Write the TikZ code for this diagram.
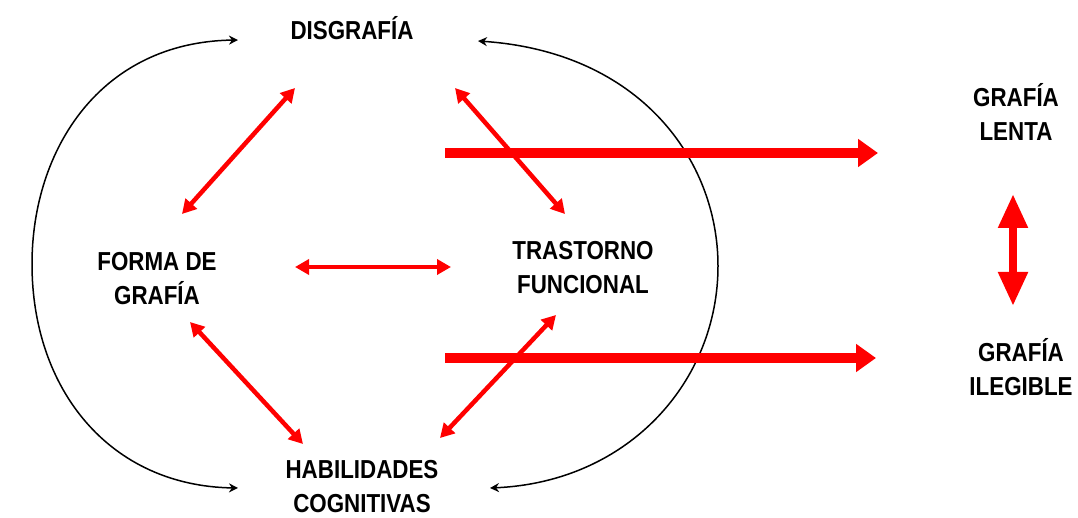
\documentclass[tikz,border=0pt]{standalone}
\usepackage{fontspec}
\setmainfont{Liberation Sans}[FakeStretch=0.86]
\usetikzlibrary{arrows.meta}
\begin{document}
\begin{tikzpicture}[x=1pt,y=-1pt,
  lbl/.style={font=\bfseries\fontsize{26}{34}\selectfont,align=center,inner sep=0pt},
  thinred/.style={draw=red,line width=4.5pt,{Triangle[width=15pt,length=14pt]}-{Triangle[width=15pt,length=14pt]}},
  bigred/.style={draw=red,line width=10pt,-{Triangle[width=27pt,length=20pt]}},
  blockred/.style={draw=red,line width=8pt,{Triangle[width=28pt,length=34pt]}-{Triangle[width=28pt,length=34pt]}},
  blackarc/.style={draw=black,line width=1.5pt,-{Stealth[width=9pt,length=9pt]}}]
\useasboundingbox (0,0) rectangle (1078,518);
% labels
\node[lbl] (dis) at (352,28) {DISGRAFÍA};
\node[lbl] (forma) at (157,279) {FORMA DE\\GRAFÍA};
\node[lbl] (tras) at (583,268) {TRASTORNO\\FUNCIONAL};
\node[lbl] (hab) at (362,487) {HABILIDADES\\COGNITIVAS};
\node[lbl] (lenta) at (1016,112) {GRAFÍA\\LENTA};
\node[lbl] (ileg) at (1021,367) {GRAFÍA\\ILEGIBLE};
% endpoints
\coordinate (a1) at (295,88);  \coordinate (a2) at (182,214);
\coordinate (b1) at (455,88);  \coordinate (b2) at (565,214);
\coordinate (c1) at (295,267); \coordinate (c2) at (451,267);
\coordinate (d1) at (190,322); \coordinate (d2) at (303,444);
\coordinate (e1) at (556,315); \coordinate (e2) at (440,438);
\coordinate (f1) at (445,153); \coordinate (f2) at (878,153);
\coordinate (g1) at (445,358); \coordinate (g2) at (876,358);
\coordinate (h1) at (1013,194); \coordinate (h2) at (1013,306);
\coordinate (la) at (32,264); \coordinate (ra) at (718,266);
\coordinate (lt) at (238,40); \coordinate (lb) at (238,488);
\coordinate (rt) at (478,41); \coordinate (rb) at (490,488);
% black arcs
\draw[blackarc] (la) .. controls (32,150) and (100,42) .. (lt);
\draw[blackarc] (la) .. controls (32,390) and (110,486) .. (lb);
\draw[blackarc] (ra) .. controls (718,160) and (640,52) .. (rt);
\draw[blackarc] (ra) .. controls (718,380) and (630,482) .. (rb);
% red arrows
\draw[thinred] (a1) -- (a2);
\draw[thinred] (b1) -- (b2);
\draw[thinred] (c1) -- (c2);
\draw[thinred] (d1) -- (d2);
\draw[thinred] (e1) -- (e2);
\draw[bigred] (f1) -- (f2);
\draw[bigred] (g1) -- (g2);
\draw[blockred] (h1) -- (h2);
\end{tikzpicture}
\end{document}
